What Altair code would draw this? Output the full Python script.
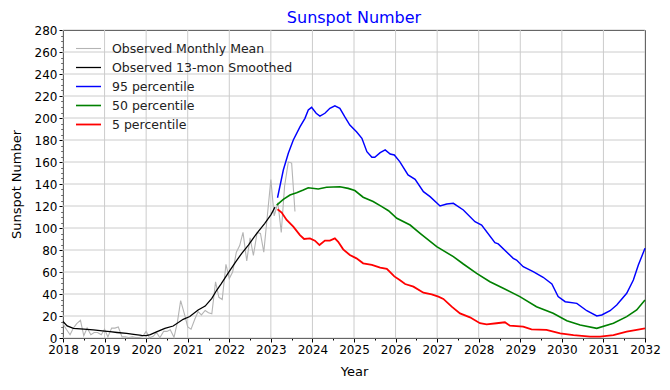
import altair as alt
import pandas as pd

# Observed monthly mean
obs_x = [2018.00, 2018.08, 2018.17, 2018.25, 2018.33, 2018.42, 2018.50, 2018.58, 2018.67, 2018.75, 2018.83, 2018.92,
         2019.00, 2019.08, 2019.17, 2019.25, 2019.33, 2019.42, 2019.50, 2019.58, 2019.67, 2019.75, 2019.83, 2019.92,
         2020.00, 2020.08, 2020.17, 2020.25, 2020.33, 2020.42, 2020.50, 2020.58, 2020.67, 2020.75, 2020.83, 2020.92,
         2021.00, 2021.08, 2021.17, 2021.25, 2021.33, 2021.42, 2021.50, 2021.58, 2021.67, 2021.75, 2021.83, 2021.92,
         2022.00, 2022.08, 2022.17, 2022.25, 2022.33, 2022.42, 2022.50, 2022.58, 2022.67, 2022.75, 2022.83, 2022.92,
         2023.00, 2023.08, 2023.17, 2023.25, 2023.33, 2023.42, 2023.50, 2023.58]
obs_y = [13, 8, 3, 9, 13, 16, 2, 9, 3, 5, 5, 3,
         8, 1, 9, 9, 10, 1, 1, 0.5, 1, 0.4, 0.5, 1.5,
         6, 0.2, 1.5, 5, 0.2, 6, 6, 7.5, 0.6, 14, 34, 22,
         10, 8, 17, 24, 21, 25, 23, 22, 51, 37, 35, 67,
         54, 60, 78, 84, 96, 70, 91, 75, 96, 95, 78, 113,
         144, 111, 123, 96, 138, 160, 159, 115]

# Observed 13-month smoothed
sm_x = [2018.0, 2018.1, 2018.25, 2018.5, 2018.73, 2019.0, 2019.13, 2019.3, 2019.53, 2019.7, 2019.89, 2020.0,
        2020.1, 2020.25, 2020.45, 2020.65, 2020.89, 2021.05, 2021.25, 2021.42, 2021.58, 2021.7, 2021.8, 2022.0,
        2022.15, 2022.3, 2022.46, 2022.6, 2022.7, 2022.85, 2023.0, 2023.1]
sm_y = [15, 11, 8.8, 8.0, 7.3, 6.3, 5.7, 5.0, 4.2, 3.3, 2.4, 2.2,
        3.0, 5.5, 8.8, 10.9, 17, 19.5, 25.5, 29, 36, 43.6, 49, 60.5,
        69, 77, 84.5, 92, 97, 104, 112, 119]

# 95 percentile
p95_x = [2023.16, 2023.3, 2023.42, 2023.54, 2023.7, 2023.82, 2023.9, 2023.98, 2024.09, 2024.18, 2024.3, 2024.42,
         2024.54, 2024.66, 2024.78, 2024.9, 2025.06, 2025.19, 2025.31, 2025.43, 2025.5, 2025.63, 2025.75, 2025.87,
         2025.97, 2026.1, 2026.3, 2026.47, 2026.67, 2026.83, 2027.07, 2027.23, 2027.39, 2027.63, 2027.91, 2028.07,
         2028.39, 2028.47, 2028.83, 2028.91, 2029.07, 2029.31, 2029.55, 2029.76, 2029.91, 2030.08, 2030.36, 2030.6,
         2030.84, 2030.96, 2031.16, 2031.32, 2031.56, 2031.72, 2031.84, 2032.0]
p95_y = [127.5, 152.7, 168, 180, 192, 199.7, 207.3, 209.7, 204.3, 201.8, 204.3, 208.8,
         211, 208.8, 201, 193.6, 187.5, 181.5, 169.4, 164.3, 164.3, 168.5, 171, 167.3,
         166.4, 160.3, 148.2, 144.3, 133, 128.5, 120, 121.8, 122.4, 116.4, 105.7, 102.7,
         86.7, 85.5, 72.4, 70.9, 64.8, 60.3, 55.2, 49.1, 37.6, 33, 31.5, 24.8,
         20, 20.9, 24.8, 30, 40.6, 52.7, 66.4, 81.5]

# 50 percentile
p50_x = [2023.14, 2023.3, 2023.46, 2023.62, 2023.78, 2023.9, 2024.14, 2024.34, 2024.66, 2024.86, 2025.02, 2025.22,
         2025.46, 2025.67, 2025.83, 2026.03, 2026.35, 2026.59, 2026.99, 2027.39, 2027.63, 2027.95, 2028.27, 2028.59,
         2028.99, 2029.39, 2029.79, 2030.12, 2030.44, 2030.84, 2031.24, 2031.56, 2031.8, 2032.0]
p50_y = [120.9, 126, 130, 132, 134.5, 136.6, 135.5, 137, 137.5, 136, 134, 128,
         124, 119.4, 115.7, 108.8, 102.7, 95.2, 83, 74, 67.3, 58.8, 51.2, 45.2,
         37.6, 28.5, 22.4, 15.7, 11.8, 8.8, 13.4, 19.4, 25.5, 34.5]

# 5 percentile
p05_x = [2023.16, 2023.26, 2023.38, 2023.54, 2023.7, 2023.8, 2023.94, 2024.06, 2024.17, 2024.3, 2024.42, 2024.54,
         2024.62, 2024.74, 2024.9, 2025.06, 2025.22, 2025.43, 2025.63, 2025.79, 2025.97, 2026.1, 2026.23, 2026.43,
         2026.67, 2026.87, 2027.03, 2027.15, 2027.35, 2027.55, 2027.79, 2028.03, 2028.19, 2028.43, 2028.63, 2028.75,
         2029.07, 2029.27, 2029.63, 2029.96, 2030.28, 2030.68, 2030.92, 2031.24, 2031.56, 2031.8, 2032.0]
p05_y = [117, 114, 107.3, 101.2, 93.6, 90, 90.6, 88.5, 84.5, 88.5, 88.5, 90.6,
         87.5, 80.6, 75.5, 72.4, 67.9, 66.4, 64, 62.8, 56, 52.7, 49.1, 46.7,
         41.2, 39.7, 37.6, 35.5, 28.5, 22.4, 18.8, 13.4, 12.4, 13.4, 14.3, 11.2,
         10.3, 7.9, 7.3, 4.2, 2.7, 1.2, 1.2, 2.7, 5.7, 7.3, 8.8]

# Axis tick positions (major ones carry labels and grid lines)
x_major = list(range(2018, 2033))
y_major = list(range(0, 281, 20))
x_ticks = [2018 + 0.5 * i for i in range(29)]
y_ticks = [5 * i for i in range(57)]

series_names = ["Observed Monthly Mean", "Observed 13-mon Smoothed", "95 percentile", "50 percentile", "5 percentile"]
series_colors = ["#b4b4b4", "#000000", "#0000ff", "#008000", "#ff0000"]
series_widths = [1.1, 1.8, 2, 2, 2]

frames = []
for name, xs, ys in zip(series_names, [obs_x, sm_x, p95_x, p50_x, p05_x], [obs_y, sm_y, p95_y, p50_y, p05_y]):
    frames.append(pd.DataFrame({"year": xs, "value": ys, "series": name}))
df = pd.concat(frames, ignore_index=True)
gx = pd.DataFrame({"year": x_major})
gy = pd.DataFrame({"value": y_major})

FONT = "DejaVu Sans"
GRID = "#cccccc"

x_test = "abs(datum.value - round(datum.value)) < 0.01"
y_test = "datum.value % 20 === 0"

x_enc = alt.X("year:Q", title="Year",
              scale=alt.Scale(domain=[2018, 2032], nice=False, zero=False),
              axis=alt.Axis(values=x_ticks, labelOverlap=False, labelFlush=False, grid=False,
                            labelExpr=f"{x_test} ? format(datum.value, 'd') : ''",
                            tickSize={"condition": {"test": x_test, "value": 4}, "value": 2},
                            titlePadding=10))
y_enc = alt.Y("value:Q", title="Sunspot Number",
              scale=alt.Scale(domain=[0, 280], nice=False),
              axis=alt.Axis(values=y_ticks, labelOverlap=False, labelFlush=False, grid=False,
                            labelExpr=f"{y_test} ? datum.label : ''",
                            tickSize={"condition": {"test": y_test, "value": 4}, "value": 2},
                            titlePadding=11))

legend = alt.Legend(
    title=None, orient="none", legendX=12, legendY=9,
    symbolType="stroke", symbolSize=625, labelFontSize=12.5, labelFont=FONT,
    labelColor="#222222", clipHeight=19, rowPadding=0, labelOffset=10, padding=0,
    labelLimit=400,
)

vgrid = alt.Chart(gx).mark_rule(color=GRID, strokeWidth=1).encode(x=x_enc)
hgrid = alt.Chart(gy).mark_rule(color=GRID, strokeWidth=1).encode(y=y_enc)

lines = alt.Chart(df).mark_line().encode(
    x=x_enc,
    y=y_enc,
    color=alt.Color("series:N", scale=alt.Scale(domain=series_names, range=series_colors),
                    sort=series_names, legend=legend),
    strokeWidth=alt.StrokeWidth("series:N", scale=alt.Scale(domain=series_names, range=series_widths),
                                sort=series_names, legend=legend),
    detail="series:N",
)

chart = alt.layer(vgrid, hgrid, lines).properties(
    width=582, height=308,
    title=alt.TitleParams("Sunspot Number", color="#0000ff", fontSize=16, font=FONT,
                          fontWeight="normal", anchor="middle", offset=-2),
    autosize=alt.AutoSizeParams(type="none"),
    padding={"left": 55, "top": 22, "right": 17, "bottom": 44},
).configure_view(
    stroke="#000000", strokeWidth=1,
).configure_axis(
    domain=False,
    tickColor="#000000", tickWidth=1,
    labelFont=FONT, labelFontSize=12, labelColor="#000000", labelPadding=2,
    titleFont=FONT, titleFontSize=13, titleFontWeight="normal", titleColor="#000000",
)

chart.save("out.html", embed_options={"renderer": "svg", "actions": False})
